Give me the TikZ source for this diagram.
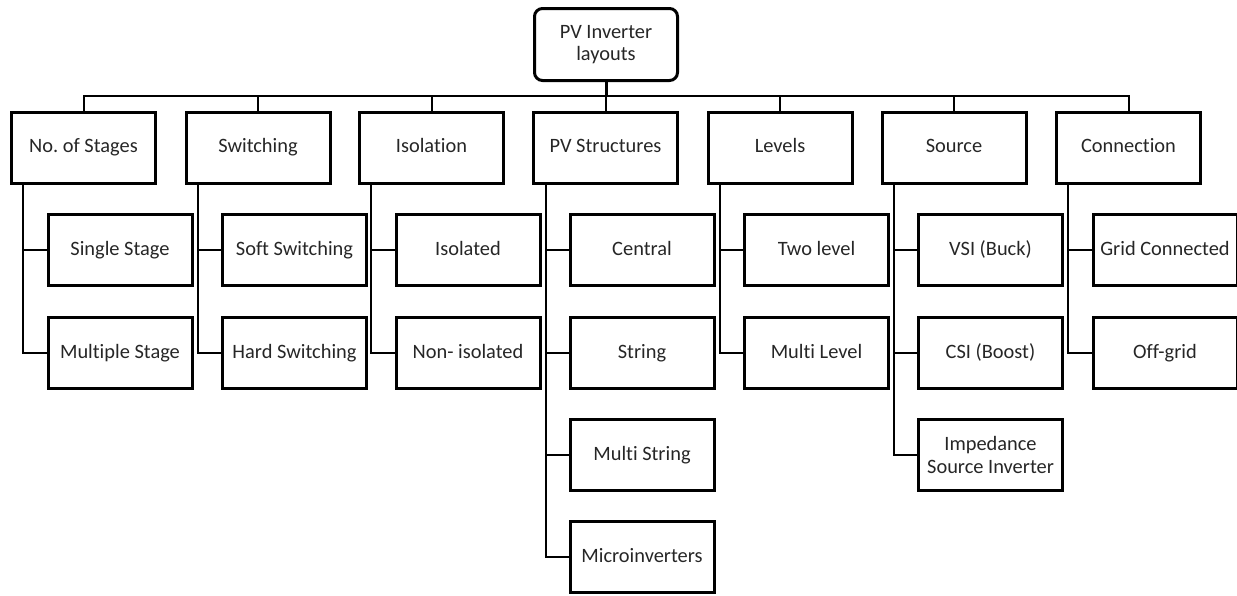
\documentclass[tikz,border=0pt]{standalone}
\usepackage{fontspec}
\setmainfont{Carlito}[Ligatures=CommonOff]
\usetikzlibrary{calc}
\frenchspacing

\tikzset{
  box/.style={draw, line width=1.5pt, minimum width=72pt, minimum height=35.5pt,
    inner sep=1pt, align=center, text=black!85, text height=7.4pt, text depth=2.2pt,
    font=\fontsize{10.2}{11.2}\selectfont},
  twoline/.style={text height={}, text depth={}},
  topbox/.style={box, twoline, rounded corners=4pt, minimum width=71.5pt, minimum height=36pt},
  link/.style={line width=1pt},
}

\begin{document}
\begin{tikzpicture}[x=0.5pt,y=-0.5pt]
	\useasboundingbox (0,0) rectangle (1237,595);

	% root
	\node[topbox] (root) at (606,44.5) {PV Inverter\\layouts};
	\coordinate (bus) at (0,96);

	% categories
	\node[box] (stages) at (83.5,147.5) {No.\ of Stages};
	\node[box] (switching) at (258,147.5) {Switching};
	\node[box] (isolation) at (431.5,147.5) {Isolation};
	\node[box] (pvstruct) at (605.5,147.5) {PV Structures};
	\node[box] (levels) at (780,147.5) {Levels};
	\node[box] (source) at (954,147.5) {Source};
	\node[box] (connection) at (1128.5,147.5) {Connection};

	% sub types
	\node[box] (single) at (120,250) {Single Stage};
	\node[box] (multiple) at (120,353) {Multiple Stage};
	\node[box] (soft) at (294.5,250) {Soft Switching};
	\node[box] (hard) at (294.5,353) {Hard Switching};
	\node[box] (isolated) at (468,250) {Isolated};
	\node[box] (nonisolated) at (468,353) {Non- isolated};
	\node[box] (central) at (642,250) {Central};
	\node[box] (string) at (642,353) {String};
	\node[box] (multistring) at (642,455) {Multi String};
	\node[box] (micro) at (642,557) {Microinverters};
	\node[box] (twolevel) at (816.5,250) {Two level};
	\node[box] (multilevel) at (816.5,353) {Multi Level};
	\node[box] (vsi) at (990.5,250) {VSI (Buck)};
	\node[box] (csi) at (990.5,353) {CSI (Boost)};
	\node[box,twoline] (zsi) at (990.5,455) {Impedance\\Source Inverter};
	\node[box] (grid) at (1165,250) {Grid Connected};
	\node[box] (offgrid) at (1165,353) {Off-grid};

	% bus
	\draw[line width=1.5pt] (root.south) -- (root.south |- bus);
	\draw[link] (stages.north) -- (stages.north |- bus) -- (connection.north |- bus) -- (connection.north);
	\draw[link] (switching.north) -- (switching.north |- bus);
	\draw[link] (isolation.north) -- (isolation.north |- bus);
	\draw[link] (pvstruct.north) -- (pvstruct.north |- bus);
	\draw[link] (levels.north) -- (levels.north |- bus);
	\draw[link] (source.north) -- (source.north |- bus);

	% spines
	\coordinate (stagesS) at ($(stages.south west)+(12.5,0)$);
	\coordinate (switchingS) at ($(switching.south west)+(13,0)$);
	\coordinate (isolationS) at ($(isolation.south west)+(13,0)$);
	\coordinate (pvstructS) at ($(pvstruct.south west)+(13.5,0)$);
	\coordinate (levelsS) at ($(levels.south west)+(13,0)$);
	\coordinate (sourceS) at ($(source.south west)+(13.5,0)$);
	\coordinate (connectionS) at ($(connection.south west)+(13,0)$);

	\draw[link] (single.west) -| (stagesS);
	\draw[link] (multiple.west) -| (stagesS);
	\draw[link] (soft.west) -| (switchingS);
	\draw[link] (hard.west) -| (switchingS);
	\draw[link] (isolated.west) -| (isolationS);
	\draw[link] (nonisolated.west) -| (isolationS);
	\draw[link] (central.west) -| (pvstructS);
	\draw[link] (string.west) -| (pvstructS);
	\draw[link] (multistring.west) -| (pvstructS);
	\draw[link] (micro.west) -| (pvstructS);
	\draw[link] (twolevel.west) -| (levelsS);
	\draw[link] (multilevel.west) -| (levelsS);
	\draw[link] (vsi.west) -| (sourceS);
	\draw[link] (csi.west) -| (sourceS);
	\draw[link] (zsi.west) -| (sourceS);
	\draw[link] (grid.west) -| (connectionS);
	\draw[link] (offgrid.west) -| (connectionS);
\end{tikzpicture}
\end{document}
